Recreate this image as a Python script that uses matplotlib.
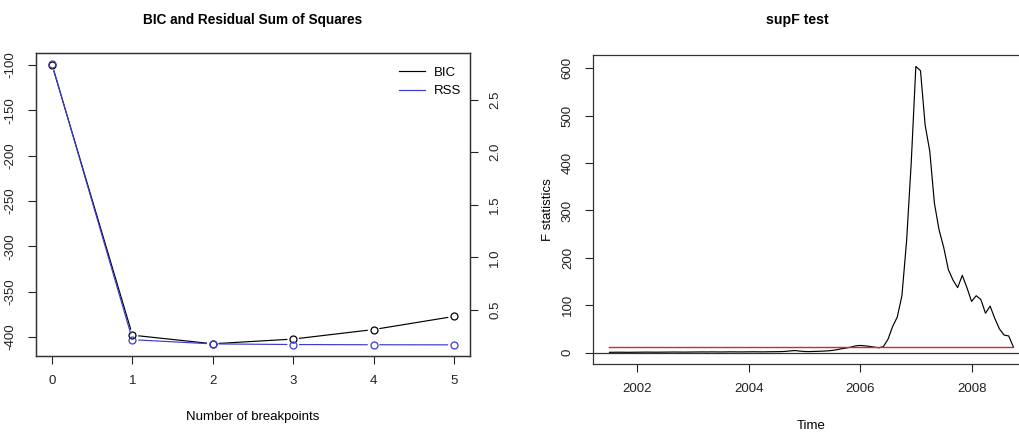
import numpy as np
import matplotlib
matplotlib.use("Agg")
import matplotlib.pyplot as plt

plt.rcParams['font.family'] = ['Liberation Sans', 'DejaVu Sans']
plt.rcParams['axes.unicode_minus'] = False

# ---------------- data ----------------
breakpoints = [0, 1, 2, 3, 4, 5]
bic = [-100.0, -398.2, -407.7, -402.5, -392.0, -377.5]
rss = [2.836, 0.216, 0.176, 0.170, 0.168, 0.167]

ts_start = 2001.5      # July 2001
ts_freq = 12           # monthly
fstats = [
    0.5, 0.6, 0.7, 0.6, 0.5, 0.6,
    0.7, 0.8, 0.9, 0.8, 0.7, 0.8, 0.9, 1.0, 1.1, 1.0, 0.9, 1.0,
    1.1, 1.2, 1.3, 1.2, 1.4, 1.3, 1.2, 1.3, 1.5, 1.4, 1.3, 1.4,
    1.5, 1.6, 1.5, 1.4, 1.6, 1.7, 1.8, 2.0, 2.5, 3.5, 4.2, 3.0,
    2.2, 2.0, 2.3, 2.6, 3.0, 3.5, 4.5, 6.0, 8.0, 9.5, 11.5, 14.0,
    15.0, 14.2, 13.0, 11.5, 10.0, 12.5, 28.0, 55.0, 75.0, 120.0, 235.0, 400.0,
    604.0, 595.0, 480.0, 425.0, 315.0, 259.0, 222.0, 175.0, 153.0, 137.0, 163.0, 137.0,
    108.0, 120.0, 112.0, 83.0, 98.0, 72.0, 50.0, 37.0, 35.0, 12.0,
]
boundary = 11.7

left_yticks = [-100, -150, -200, -250, -300, -350, -400]
right_yticks = [0.5, 1.0, 1.5, 2.0, 2.5]
f_yticks = [0, 100, 200, 300, 400, 500, 600]
year_ticks = [2002, 2004, 2006, 2008]

BLUE = '#3b3bd0'
RED = '#d62828'
TICK_FS = 9.5

W, H = 1019, 436
fig = plt.figure(figsize=(W / 100, H / 100), dpi=100)


def frac(x0, x1, ytop, ybot):
    return [x0 / W, 1 - ybot / H, (x1 - x0) / W, (ybot - ytop) / H]


def type_b(ax, xs, ys, color, r_px=5.8, lw=0.85, ms=5.0):
    """R-style type='b': line segments with gaps around points."""
    pts = ax.transData.transform(np.column_stack([xs, ys]))
    inv = ax.transData.inverted()
    for p, q in zip(pts[:-1], pts[1:]):
        d = q - p
        L = np.hypot(*d)
        if L <= 2 * r_px:
            continue
        u = d / L
        a = inv.transform(p + u * r_px)
        b = inv.transform(q - u * r_px)
        ax.plot([a[0], b[0]], [a[1], b[1]], color=color, lw=lw,
                solid_capstyle='butt', clip_on=False)
    ax.plot(xs, ys, ls='none', marker='o', ms=ms, mfc='none', mec=color,
            mew=0.9, clip_on=False)


# ---------------- left panel ----------------
ax1 = fig.add_axes(frac(36, 470, 53, 356))
ax1.set_xlim(-0.2, 5.2)
ax1.set_ylim(-421.2, -86.7)
ax2 = ax1.twinx()
ax2.set_ylim(0.061, 2.943)

for ax in (ax1, ax2):
    for s in ax.spines.values():
        s.set_linewidth(0.9)
        s.set_color('#333333')

type_b(ax1, breakpoints, bic, 'black')
type_b(ax2, breakpoints, rss, BLUE)

ax1.set_xticks(breakpoints)
ax1.set_xticklabels([str(b) for b in breakpoints], fontsize=TICK_FS)
ax1.set_yticks(left_yticks)
ax1.set_yticklabels([str(v) for v in left_yticks], fontsize=TICK_FS,
                    rotation=90, va='center')
ax2.set_yticks(right_yticks)
ax2.set_yticklabels([f"{v:.1f}" for v in right_yticks], fontsize=TICK_FS,
                    rotation=90, va='center')
ax1.tick_params(axis='both', length=6, width=0.8, pad=8, colors='#222222')
ax2.tick_params(axis='y', length=6, width=0.8, pad=8, colors='#222222')
ax1.set_xlabel('Number of breakpoints', fontsize=9.5, labelpad=17)
fig.text(253 / W, 1 - 20 / H, 'BIC and Residual Sum of Squares',
         fontsize=9.8, fontweight='bold', ha='center', va='center')

# legend
h1, = ax1.plot([], [], color='black', lw=0.85)
h2, = ax1.plot([], [], color=BLUE, lw=0.85)
ax1.legend([h1, h2], ['BIC', 'RSS'], loc='upper right', frameon=False,
           fontsize=TICK_FS, handlelength=2.0, handletextpad=0.6,
           borderaxespad=0.3, labelspacing=0.45, bbox_to_anchor=(1.0, 0.985))

# ---------------- right panel ----------------
ax3 = fig.add_axes(frac(593.3, 1029.5, 55, 364))
n = len(fstats)
t = ts_start + np.arange(n) / ts_freq
ax3.set_xlim(t[0] - 0.04 * (t[-1] - t[0]), t[-1] + 0.04 * (t[-1] - t[0]))
ax3.set_ylim(-24.2, 628.2)
ax3.axhline(0, color='#333333', lw=0.9)
ax3.plot(t, fstats, color='black', lw=0.85)
ax3.plot(t, [boundary] * n, color=RED, lw=1.0)
for s in ax3.spines.values():
    s.set_linewidth(0.9)
    s.set_color('#333333')
ax3.set_xticks(year_ticks)
ax3.set_xticklabels([str(y) for y in year_ticks], fontsize=TICK_FS)
ax3.set_yticks(f_yticks)
ax3.set_yticklabels([str(v) for v in f_yticks], fontsize=TICK_FS,
                    rotation=90, va='center')
ax3.tick_params(axis='both', length=6, width=0.8, pad=8, colors='#222222')
ax3.set_xlabel('Time', fontsize=9.5, labelpad=18)
ax3.set_ylabel('F statistics', fontsize=9.5, labelpad=6)
fig.text(797 / W, 1 - 20 / H, 'supF test', fontsize=10.2, fontweight='bold',
         ha='center', va='center')

fig.savefig('out.png', dpi=100)
